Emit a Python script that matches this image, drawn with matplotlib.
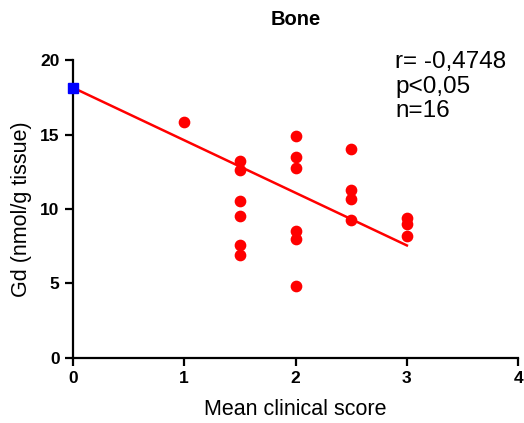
import numpy as np
import matplotlib
matplotlib.use("Agg")
from matplotlib import pyplot as plt

plt.rcParams['font.family'] = ['Liberation Sans', 'DejaVu Sans']

# mean clinical score and Gd concentration
score = [1.0,
         1.5, 1.5, 1.5, 1.5, 1.5, 1.5,
         2.0, 2.0, 2.0, 2.0, 2.0, 2.0,
         2.5, 2.5, 2.5, 2.5,
         3.0, 3.0, 3.0]
gd = [15.85,
      13.25, 12.6, 10.55, 9.5, 7.6, 6.9,
      14.9, 13.5, 12.75, 8.5, 7.95, 4.8,
      14.0, 11.25, 10.65, 9.25,
      9.4, 9.0, 8.2]

# regression line ends and intercept marker
fit_x = [0.0, 3.0]
fit_y = [18.15, 7.55]

fig = plt.figure(figsize=(5.24, 4.23), dpi=100)
ax = fig.add_axes([0.139, 0.154, 0.85, 0.704])

ax.plot(fit_x, fit_y, color='red', lw=1.8, zorder=2)
ax.scatter(score, gd, s=55, color='red', zorder=3)
ax.plot([fit_x[0]], [fit_y[0]], 's', color='blue', ms=7, clip_on=False, zorder=4)

ax.set_xlim(0, 4)
ax.set_ylim(0, 20)
ax.set_xticks([0, 1, 2, 3, 4])
ax.set_yticks([0, 5, 10, 15, 20])
for s in ['top', 'right']:
    ax.spines[s].set_visible(False)
for s in ['left', 'bottom']:
    ax.spines[s].set_linewidth(1.6)
ax.tick_params(width=1.6, length=6, labelsize=12.5)
for lab in ax.get_xticklabels() + ax.get_yticklabels():
    lab.set_fontweight('bold')

ax.set_xlabel('Mean clinical score', fontsize=15.5, labelpad=9)
ax.set_ylabel('Gd (nmol/g tissue)', fontsize=15.5, labelpad=6)
ax.set_title('Bone', fontsize=14.5, fontweight='bold', pad=25)
ax.text(0.724, 1.03, 'r= -0,4748\np<0,05\nn=16', transform=ax.transAxes,
        fontsize=17.5, va='top', ha='left', linespacing=1.15)

fig.savefig('out.png', dpi=100)
